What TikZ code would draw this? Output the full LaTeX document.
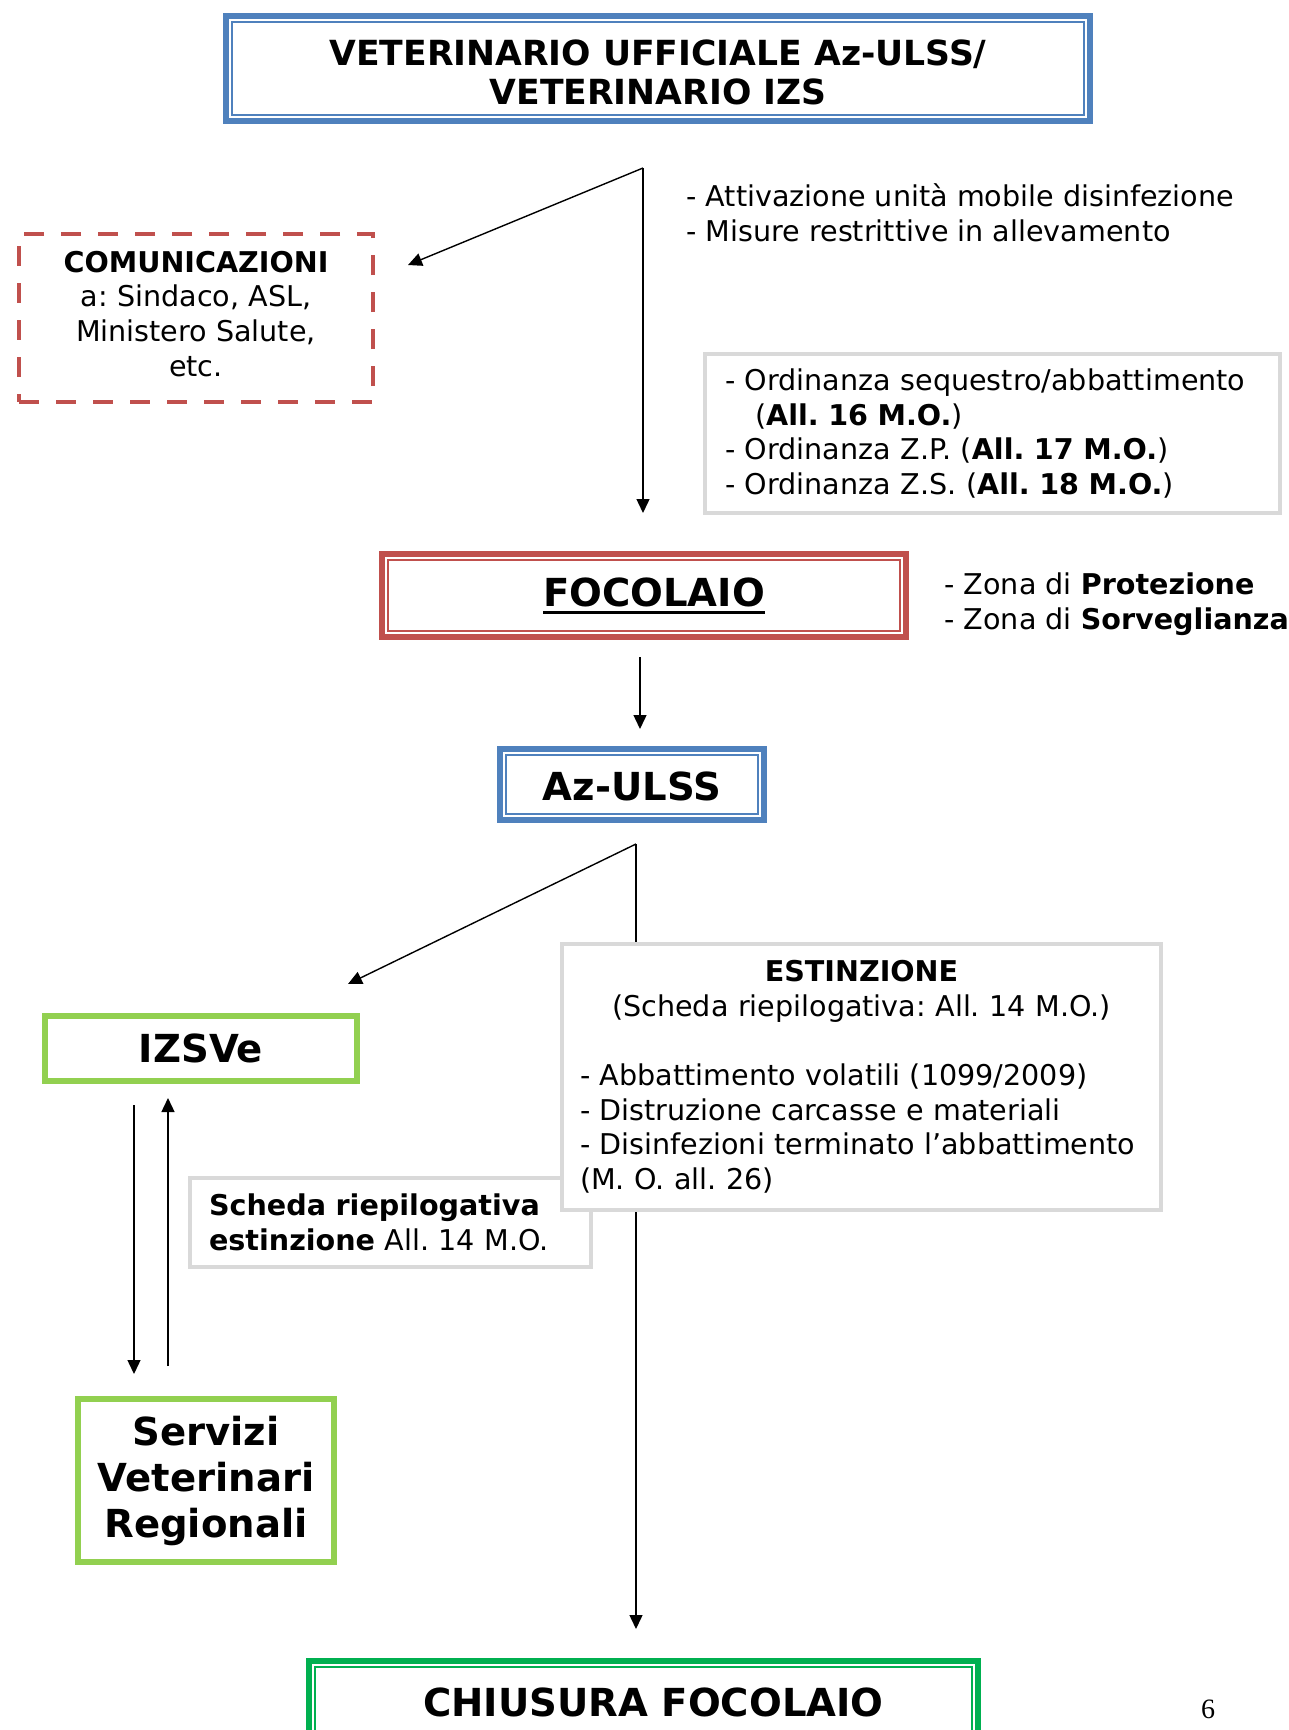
\documentclass[tikz,border=0pt]{standalone}
\usepackage{fontspec}
\setmainfont{DejaVu Sans}
\newfontfamily\pagenumfont{Liberation Serif}
\usetikzlibrary{positioning}
\usetikzlibrary{arrows.meta}
\definecolor{ofblue}{HTML}{4F81BD}
\definecolor{ofred}{HTML}{C0504D}
\definecolor{ofgreen}{HTML}{92D050}
\definecolor{ofdarkgreen}{HTML}{00B050}
\definecolor{ofgray}{HTML}{D9D9D9}
\setlength{\parindent}{0pt}
\frenchspacing
\newcommand{\bodysize}{\fontsize{14.3}{17.3}\selectfont}
\newcommand{\bigsize}{\fontsize{19.3}{23}\selectfont}
\newcommand{\topsize}{\fontsize{17.3}{19.5}\selectfont}
\newcommand{\thickul}[1]{\vtop{\hbox{#1}\kern2pt\hrule height 1.5pt}}
\newcommand{\innerframe}[2]{\draw[#2, line width=1pt] ([xshift=3pt,yshift=-3pt]#1.north west) rectangle ([xshift=-3pt,yshift=3pt]#1.south east);}
\tikzstyle{bluebox} = [rectangle, draw=ofblue, line width=3pt, outer sep=0pt, fill=white, align=center]
\tikzstyle{redbox} = [rectangle, draw=ofred, line width=3pt, outer sep=0pt, fill=white, align=center]
\tikzstyle{chiusurabox} = [rectangle, draw=ofdarkgreen, line width=3pt, outer sep=0pt, fill=white, align=center]
\tikzstyle{greenbox} = [rectangle, draw=ofgreen, line width=2.75pt, outer sep=0pt, fill=white, align=center]
\tikzstyle{graybox} = [rectangle, draw=ofgray, line width=2.2pt, outer sep=0pt, fill=white]
\tikzstyle{dashbox} = [rectangle, draw=ofred, line width=2.3pt, dash pattern=on 10pt off 8.5pt, outer sep=0pt, align=center]
\tikzstyle{arr} = [-{Triangle[length=7pt,width=6.5pt]}, line width=0.7pt]

\begin{document}
\begin{tikzpicture}[x=0.5pt, y=-0.5pt]
	\useasboundingbox (0,0) rectangle (1289,1730);
	% vertice
	\node[bluebox, minimum width=432pt, minimum height=52.5pt, font=\topsize\bfseries](top) at (658,68.5){\rule{0pt}{16.6pt}VETERINARIO UFFICIALE Az-ULSS/\\VETERINARIO IZS};
	\innerframe{top}{ofblue}
	\node[dashbox, minimum width=177pt, minimum height=84pt, font=\bodysize](com) at (196,318){\textbf{COMUNICAZIONI}\\a: Sindaco, ASL,\\Ministero Salute,\\etc.\rule[-4.4pt]{0pt}{4.4pt}};
	\node[anchor=west, inner sep=0pt, align=left, font=\bodysize](misure) at (686,213){- Attivazione unità mobile disinfezione\\- Misure restrittive in allevamento};
	\node[graybox, minimum width=287.5pt, minimum height=79.5pt, text width=267.5pt, inner xsep=10pt, align=left, font=\bodysize](ord) at (992.5,433.5){- Ordinanza sequestro/abbattimento\\\hspace*{15pt}(\textbf{All. 16 M.O.})\\- Ordinanza Z.P. (\textbf{All. 17 M.O.})\\- Ordinanza Z.S. (\textbf{All. 18 M.O.})};
	\coordinate (split1) at (643,168);
	\coordinate (comtip) at (408,265);
	\coordinate (foctip) at (643,513);
	\draw[arr] (split1) -- (comtip);
	\draw[arr] (split1) -- (foctip);
	% focolaio
	\node[redbox, minimum width=262pt, minimum height=41.5pt, font=\bigsize\bfseries](focolaio) at (644,595.5){\hspace*{10pt}\thickul{FOCOLAIO}};
	\innerframe{focolaio}{ofred}
	\node[anchor=west, inner sep=0pt, align=left, font=\bodysize](zone) at (944,604){- Zona di \textbf{Protezione}\\- Zona di \textbf{Sorveglianza}};
	\coordinate (focout) at (640,657);
	\coordinate (azin) at (640,729);
	\draw[arr] (focout) -- (azin);
	\node[bluebox, minimum width=132pt, minimum height=35.5pt, font=\bigsize\bfseries](azulss) at (632,784.5){\rule{0pt}{16.5pt}Az-ULSS};
	\innerframe{azulss}{ofblue}
	% rami sotto Az-ULSS
	\coordinate (split2) at (636,844);
	\coordinate (izstip) at (348,984);
	\coordinate (chiutip) at (636,1629);
	\draw[arr] (split2) -- (izstip);
	\draw[arr] (split2) -- (chiutip);
	\node[greenbox, minimum width=156pt, minimum height=32.5pt, font=\bigsize\bfseries](izsve) at (201,1048.5){IZSVe};
	\node[graybox, minimum width=200.5pt, minimum height=44.5pt, text width=181.5pt, inner xsep=9.5pt, align=left, font=\bodysize](scheda) at (390.5,1222.5){\textbf{Scheda riepilogativa}\\\textbf{estinzione} All. 14 M.O.};
	\node[graybox, minimum width=299.5pt, minimum height=133pt, text width=281.5pt, inner xsep=9pt, font=\bodysize](estinzione) at (861.5,1077){{\centering\textbf{ESTINZIONE}\\(Scheda riepilogativa: All. 14 M.O.)\par}\vspace{\baselineskip}{\raggedright - Abbattimento volatili (1099/2009)\\- Distruzione carcasse e materiali\\- Disinfezioni terminato l’abbattimento\\(M. O. all. 26)\par}};
	\node[greenbox, minimum width=128pt, minimum height=81.5pt, font=\bigsize\bfseries](servizi) at (206,1480.5){Servizi\\Veterinari\\Regionali};
	\coordinate (izsdown) at (134,1105);
	\coordinate (servin) at (134,1374);
	\coordinate (servup) at (168,1366);
	\coordinate (izsin) at (168,1098);
	\draw[arr] (izsdown) -- (servin);
	\draw[arr] (servup) -- (izsin);
	% chiusura
	\node[chiusurabox, minimum width=334.5pt, minimum height=41.5pt, font=\bigsize\bfseries](chiusura) at (643.5,1702.5){\hspace*{10pt}CHIUSURA FOCOLAIO};
	\innerframe{chiusura}{ofdarkgreen}
	\node[anchor=base, inner sep=0pt, font=\pagenumfont\fontsize{14}{16}\selectfont](pagenum) at (1208,1718){6};
\end{tikzpicture}
\end{document}
